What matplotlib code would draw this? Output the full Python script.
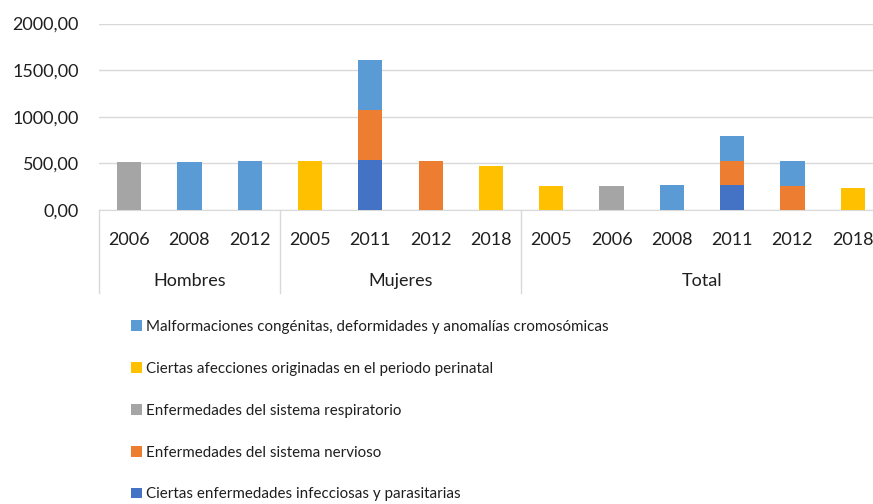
import numpy as np
import matplotlib.pyplot as plt
from matplotlib.patches import Patch
from matplotlib.transforms import blended_transform_factory

plt.rcParams['font.family'] = ['Lato', 'DejaVu Sans']

groups = ['Hombres', 'Mujeres', 'Total']
group_sizes = [3, 4, 6]
years = ['2006', '2008', '2012',
         '2005', '2011', '2012', '2018',
         '2005', '2006', '2008', '2011', '2012', '2018']

# stacked from bottom to top
infecciosas = [0, 0, 0, 0, 535, 0, 0, 0, 0, 0, 265, 0, 0]
nervioso = [0, 0, 0, 0, 535, 530, 0, 0, 0, 0, 265, 262, 0]
respiratorio = [516, 0, 0, 0, 0, 0, 0, 0, 262, 0, 0, 0, 0]
perinatal = [0, 0, 0, 530, 0, 0, 475, 258, 0, 0, 0, 0, 234]
malformaciones = [0, 514, 521, 0, 535, 0, 0, 0, 0, 267, 265, 262, 0]

series = [
    ('Ciertas enfermedades infecciosas y parasitarias', infecciosas, '#4472C4'),
    ('Enfermedades del sistema nervioso', nervioso, '#ED7D31'),
    ('Enfermedades del sistema respiratorio', respiratorio, '#A5A5A5'),
    ('Ciertas afecciones originadas en el periodo perinatal', perinatal, '#FFC000'),
    ('Malformaciones congénitas, deformidades y anomalías cromosómicas', malformaciones, '#5B9BD5'),
]

txt = '#1f1f1f'
W, H = 873, 504
fig = plt.figure(figsize=(W / 100, H / 100), dpi=100)
n = len(years) + 1  # axis continues one slot past the last bar (clipped)
slot = 60.3
ax = fig.add_axes([99 / W, 1 - 210 / H, n * slot / W, (210 - 23.5) / H])

x = np.arange(len(years))
bottom = np.zeros(len(years))
handles = []
for label, vals, color in series:
    vals = np.array(vals, dtype=float)
    ax.bar(x, vals, width=0.4, bottom=bottom, color=color, zorder=3)
    bottom += vals
    handles.append(Patch(facecolor=color, label=label))

ax.set_xlim(-0.5, n - 0.5)
ax.set_ylim(0, 2000)
ax.set_yticks([0, 500, 1000, 1500, 2000])
ax.set_yticklabels(['0,00', '500,00', '1000,00', '1500,00', '2000,00'],
                   fontsize=13, color=txt)
ax.tick_params(axis='y', length=0, pad=14.5)
ax.set_xticks([])
ax.grid(axis='y', color='#D9D9D9', linewidth=1, zorder=0)
for s in ['top', 'right', 'left']:
    ax.spines[s].set_visible(False)
ax.spines['bottom'].set_color('#D9D9D9')

# two-level category axis
tr = blended_transform_factory(ax.transData, ax.transAxes)
for xi, yr in zip(x, years):
    ax.text(xi, -0.161, yr, transform=tr, ha='center', va='center',
            fontsize=13, color=txt)
start = 0
seps = [-0.5]
for g, size in zip(groups, group_sizes):
    if g == 'Total':
        center = start + 2.5
    else:
        center = start + (size - 1) / 2
    ax.text(center, -0.381, g, transform=tr, ha='center', va='center',
            fontsize=13, color=txt)
    start += size
    seps.append(start - 0.5)
for s in seps[:-1]:
    ax.plot([s, s], [0, -0.445], transform=tr, color='#D9D9D9',
            linewidth=1, clip_on=False)

fig.legend(handles=handles[::-1], loc='upper left',
           bbox_to_anchor=(131 / W, 1 - 320 / H), frameon=False,
           fontsize=10.9, labelspacing=1.84, handlelength=0.7,
           handleheight=0.7, handletextpad=0.3, borderpad=0,
           borderaxespad=0, labelcolor=txt)

fig.savefig('out.png', dpi=100)
